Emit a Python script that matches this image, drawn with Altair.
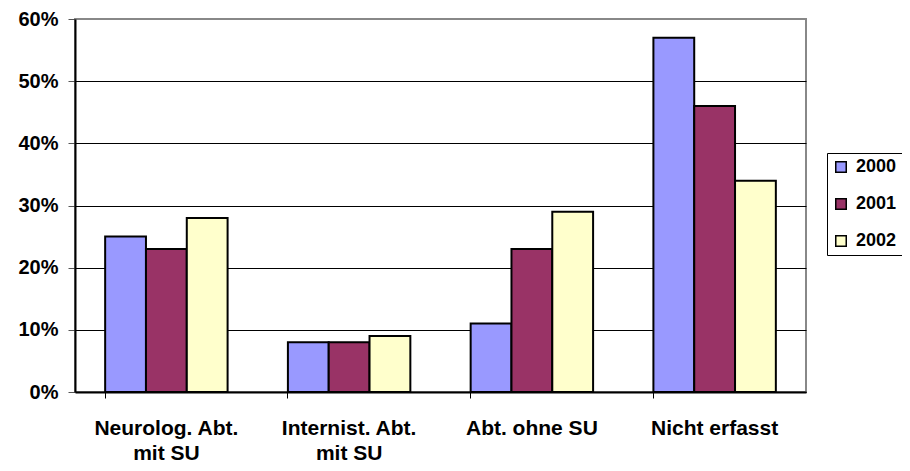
import altair as alt
import pandas as pd

categories = ["Neurolog. Abt.|mit SU", "Internist. Abt.|mit SU", "Abt. ohne SU", "Nicht erfasst"]
years = ["2000", "2001", "2002"]
v2000 = [0.25, 0.08, 0.11, 0.57]
v2001 = [0.23, 0.08, 0.23, 0.46]
v2002 = [0.28, 0.09, 0.29, 0.34]
colors = ["#9999FF", "#993366", "#FFFFCC"]

rows = []
for i, c in enumerate(categories):
    for y, vals in zip(years, [v2000, v2001, v2002]):
        rows.append({"cat": c, "year": y, "value": vals[i]})
df = pd.DataFrame(rows)

FONT = "Liberation Sans"

chart = alt.Chart(df).mark_bar(stroke="black", strokeWidth=2).encode(
    x=alt.X("cat:N", sort=categories, title=None,
            scale=alt.Scale(paddingInner=0.33, paddingOuter=0.165),
            axis=alt.Axis(labelAngle=0, bandPosition=0, labelExpr="split(datum.label, '|')",
                          labelFont=FONT, labelFontSize=21, labelFontWeight="bold",
                          labelColor="black", labelLineHeight=25, labelPadding=19,
                          tickSize=6, tickColor="black", tickWidth=1,
                          domainColor="black", domainWidth=2)),
    xOffset=alt.XOffset("year:N", sort=years),
    y=alt.Y("value:Q", title=None,
            scale=alt.Scale(domain=[0, 0.6], nice=False),
            axis=alt.Axis(format="%", values=[0, 0.1, 0.2, 0.3, 0.4, 0.5, 0.6],
                          labelFont=FONT, labelFontSize=20, labelFontWeight="bold",
                          labelColor="black", labelPadding=10,
                          tickSize=7, tickColor="#555", tickWidth=1,
                          domainColor="black", domainWidth=2,
                          grid=True,
                          gridColor={"condition": {"test": "datum.value >= 0.6", "value": "#888888"}, "value": "#000000"},
                          gridWidth=1)),
    color=alt.Color("year:N", sort=years,
                    scale=alt.Scale(domain=years, range=colors),
                    legend=alt.Legend(title=None, orient="none", legendX=752, legendY=134,
                                      symbolType="square", symbolSize=110,
                                      symbolStrokeColor="black", symbolStrokeWidth=1.5,
                                      labelFont=FONT, labelFontSize=18, labelFontWeight="bold",
                                      labelColor="black", labelOffset=6,
                                      rowPadding=19, padding=5,
                                      strokeColor="black", fillColor="white")),
).properties(
    width=731, height=373,
    autosize=alt.AutoSizeParams(type="none"),
    padding={"left": 67, "top": 11, "right": 96, "bottom": 71},
).configure_view(
    stroke="#888888", strokeWidth=2
).configure_legend(
    symbolOpacity=1
)

chart.save("out.html", embed_options={"renderer": "svg", "actions": False})
